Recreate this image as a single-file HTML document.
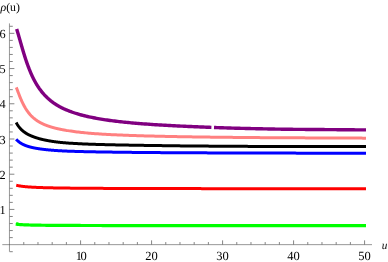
<!DOCTYPE html>
<html><head><meta charset="utf-8"><title>plot</title>
<style>
html,body{margin:0;padding:0;background:#fff;}
body{width:388px;height:262px;overflow:hidden;font-family:"Liberation Serif",serif;}
svg{display:block;will-change:transform;}
text{text-rendering:geometricPrecision;}
</style></head><body>
<svg width="388" height="262" viewBox="0 0 388 262">
<rect width="388" height="262" fill="#fff"/>
<g stroke="#505050" stroke-width="0.6" fill="none" shape-rendering="auto">
<path d="M2.3,244.65 H372"/>
<path d="M9.45,23.4 V251.6"/>
<path d="M23.78,244.65 v-2.6 M37.98,244.65 v-2.6 M52.18,244.65 v-2.6 M66.38,244.65 v-2.6 M80.58,244.65 v-4.3 M94.78,244.65 v-2.6 M108.98,244.65 v-2.6 M123.18,244.65 v-2.6 M137.38,244.65 v-2.6 M151.58,244.65 v-4.3 M165.78,244.65 v-2.6 M179.98,244.65 v-2.6 M194.18,244.65 v-2.6 M208.38,244.65 v-2.6 M222.58,244.65 v-4.3 M236.78,244.65 v-2.6 M250.98,244.65 v-2.6 M265.18,244.65 v-2.6 M279.38,244.65 v-2.6 M293.58,244.65 v-4.3 M307.78,244.65 v-2.6 M321.98,244.65 v-2.6 M336.18,244.65 v-2.6 M350.38,244.65 v-2.6 M364.58,244.65 v-4.3 M9.58,251.69 h3.2 M9.58,237.61 h3.2 M9.58,230.56 h3.2 M9.58,223.52 h3.2 M9.58,216.47 h3.2 M9.58,209.43 h4.8 M9.58,202.39 h3.2 M9.58,195.34 h3.2 M9.58,188.30 h3.2 M9.58,181.25 h3.2 M9.58,174.21 h4.8 M9.58,167.17 h3.2 M9.58,160.12 h3.2 M9.58,153.08 h3.2 M9.58,146.03 h3.2 M9.58,138.99 h4.8 M9.58,131.95 h3.2 M9.58,124.90 h3.2 M9.58,117.86 h3.2 M9.58,110.81 h3.2 M9.58,103.77 h4.8 M9.58,96.73 h3.2 M9.58,89.68 h3.2 M9.58,82.64 h3.2 M9.58,75.59 h3.2 M9.58,68.55 h4.8 M9.58,61.51 h3.2 M9.58,54.46 h3.2 M9.58,47.42 h3.2 M9.58,40.37 h3.2 M9.58,33.33 h4.8 M9.58,26.29 h3.2" stroke-width="0.8" stroke="#666"/>
</g>
<path d="M15.76,224.13 L15.96,224.16 L16.16,224.19 L16.37,224.21 L16.57,224.24 L16.77,224.26 L16.98,224.28 L17.18,224.31 L17.38,224.33 L17.59,224.35 L17.79,224.37 L17.99,224.39 L18.20,224.41 L18.40,224.43 L18.60,224.45 L18.81,224.47 L19.01,224.48 L19.21,224.50 L19.42,224.52 L19.62,224.53 L19.82,224.55 L20.03,224.56 L20.23,224.58 L20.43,224.59 L20.64,224.61 L20.84,224.62 L21.04,224.63 L21.25,224.65 L21.45,224.66 L21.65,224.67 L21.86,224.68 L22.06,224.70 L22.26,224.71 L22.47,224.72 L22.67,224.73 L22.87,224.74 L23.08,224.75 L23.28,224.76 L23.48,224.77 L23.69,224.78 L23.89,224.79 L24.09,224.80 L24.30,224.81 L24.50,224.82 L24.70,224.83 L24.91,224.84 L25.11,224.84 L25.31,224.85 L25.52,224.86 L25.72,224.87 L25.92,224.88 L26.13,224.89 L26.33,224.89 L26.53,224.90 L26.74,224.91 L26.94,224.92 L27.14,224.92 L27.35,224.93 L27.55,224.94 L27.75,224.94 L27.96,224.95 L28.16,224.96 L28.36,224.96 L28.57,224.97 L28.77,224.97 L28.97,224.98 L29.18,224.99 L29.38,224.99 L29.58,225.00 L29.79,225.00 L29.99,225.01 L30.19,225.02 L30.39,225.02 L30.60,225.03 L30.80,225.03 L31.00,225.04 L31.21,225.04 L31.41,225.05 L31.61,225.05 L31.82,225.06 L32.02,225.06 L32.22,225.07 L32.43,225.07 L32.63,225.08 L32.83,225.08 L33.04,225.08 L33.24,225.09 L33.44,225.09 L33.65,225.10 L33.85,225.10 L34.05,225.11 L34.26,225.11 L34.46,225.11 L34.66,225.12 L34.87,225.12 L35.07,225.13 L35.27,225.13 L35.48,225.13 L35.68,225.14 L35.88,225.14 L36.09,225.14 L36.29,225.15 L36.49,225.15 L36.70,225.16 L36.90,225.16 L37.10,225.16 L37.31,225.17 L37.51,225.17 L37.71,225.17 L37.92,225.18 L38.12,225.18 L38.32,225.18 L38.53,225.18 L38.73,225.19 L38.93,225.19 L39.14,225.19 L39.34,225.20 L39.54,225.20 L39.75,225.20 L39.95,225.21 L40.15,225.21 L40.36,225.21 L40.56,225.21 L40.76,225.22 L40.97,225.22 L41.17,225.22 L41.37,225.23 L41.58,225.23 L41.78,225.23 L41.98,225.23 L42.19,225.24 L42.39,225.24 L42.59,225.24 L42.80,225.24 L43.00,225.25 L43.20,225.25 L43.41,225.25 L43.61,225.25 L43.81,225.26 L44.02,225.26 L44.22,225.26 L44.42,225.26 L44.63,225.26 L44.83,225.27 L45.03,225.27 L45.24,225.27 L45.44,225.27 L45.64,225.28 L45.85,225.28 L46.05,225.28 L46.25,225.28 L46.46,225.28 L46.66,225.29 L46.86,225.29 L47.07,225.29 L47.27,225.29 L47.47,225.29 L47.68,225.30 L47.88,225.30 L48.08,225.30 L48.29,225.30 L48.49,225.30 L48.69,225.31 L48.90,225.31 L49.10,225.31 L49.30,225.31 L49.51,225.31 L49.71,225.31 L49.91,225.32 L50.12,225.32 L50.32,225.32 L50.52,225.32 L50.73,225.32 L50.93,225.32 L51.13,225.33 L51.34,225.33 L51.54,225.33 L51.74,225.33 L51.95,225.33 L52.15,225.33 L52.35,225.34 L52.56,225.34 L52.76,225.34 L52.96,225.34 L53.17,225.34 L53.37,225.34 L53.57,225.35 L53.78,225.35 L53.98,225.35 L54.18,225.35 L54.38,225.35 L54.59,225.35 L54.79,225.35 L54.99,225.36 L55.20,225.36 L55.40,225.36 L55.60,225.36 L55.81,225.36 L56.01,225.36 L56.21,225.36 L56.42,225.37 L56.62,225.37 L56.82,225.37 L57.03,225.37 L57.23,225.37 L57.43,225.37 L57.64,225.37 L57.84,225.37 L58.04,225.38 L58.25,225.38 L58.45,225.38 L58.65,225.38 L58.86,225.38 L59.06,225.38 L59.26,225.38 L59.47,225.38 L59.67,225.39 L59.87,225.39 L60.08,225.39 L60.28,225.39 L60.48,225.39 L60.69,225.39 L60.89,225.39 L61.09,225.39 L61.30,225.39 L61.50,225.40 L61.70,225.40 L61.91,225.40 L62.11,225.40 L62.31,225.40 L62.52,225.40 L62.72,225.40 L62.92,225.40 L63.13,225.40 L63.33,225.41 L63.53,225.41 L63.74,225.41 L63.94,225.41 L64.14,225.41 L64.35,225.41 L64.55,225.41 L64.75,225.41 L64.96,225.41 L65.16,225.41 L65.36,225.42 L65.57,225.42 L65.77,225.42 L65.97,225.42 L66.18,225.42 L66.38,225.42 L67.89,225.43 L69.39,225.43 L70.90,225.44 L72.40,225.45 L73.91,225.45 L75.41,225.46 L76.92,225.46 L78.43,225.47 L79.93,225.47 L81.44,225.48 L82.94,225.48 L84.45,225.49 L85.95,225.49 L87.46,225.49 L88.96,225.50 L90.47,225.50 L91.98,225.50 L93.48,225.51 L94.99,225.51 L96.49,225.51 L98.00,225.52 L99.50,225.52 L101.01,225.52 L102.52,225.53 L104.02,225.53 L105.53,225.53 L107.03,225.53 L108.54,225.54 L110.04,225.54 L111.55,225.54 L113.05,225.54 L114.56,225.55 L116.07,225.55 L117.57,225.55 L119.08,225.55 L120.58,225.55 L122.09,225.56 L123.59,225.56 L125.10,225.56 L126.61,225.56 L128.11,225.56 L129.62,225.57 L131.12,225.57 L132.63,225.57 L134.13,225.57 L135.64,225.57 L137.14,225.57 L138.65,225.58 L140.16,225.58 L141.66,225.58 L143.17,225.58 L144.67,225.58 L146.18,225.58 L147.68,225.58 L149.19,225.59 L150.70,225.59 L152.20,225.59 L153.71,225.59 L155.21,225.59 L156.72,225.59 L158.22,225.59 L159.73,225.59 L161.23,225.59 L162.74,225.60 L164.25,225.60 L165.75,225.60 L167.26,225.60 L168.76,225.60 L170.27,225.60 L171.77,225.60 L173.28,225.60 L174.79,225.60 L176.29,225.60 L177.80,225.61 L179.30,225.61 L180.81,225.61 L182.31,225.61 L183.82,225.61 L185.32,225.61 L186.83,225.61 L188.34,225.61 L189.84,225.61 L191.35,225.61 L192.85,225.61 L194.36,225.61 L195.86,225.62 L197.37,225.62 L198.88,225.62 L200.38,225.62 L201.89,225.62 L203.39,225.62 L204.90,225.62 L206.40,225.62 L207.91,225.62 L209.41,225.62 L210.92,225.62 L212.43,225.62 L213.93,225.62 L215.44,225.62 L216.94,225.62 L218.45,225.63 L219.95,225.63 L221.46,225.63 L222.97,225.63 L224.47,225.63 L225.98,225.63 L227.48,225.63 L228.99,225.63 L230.49,225.63 L232.00,225.63 L233.50,225.63 L235.01,225.63 L236.52,225.63 L238.02,225.63 L239.53,225.63 L241.03,225.63 L242.54,225.63 L244.04,225.63 L245.55,225.63 L247.06,225.64 L248.56,225.64 L250.07,225.64 L251.57,225.64 L253.08,225.64 L254.58,225.64 L256.09,225.64 L257.59,225.64 L259.10,225.64 L260.61,225.64 L262.11,225.64 L263.62,225.64 L265.12,225.64 L266.63,225.64 L268.13,225.64 L269.64,225.64 L271.15,225.64 L272.65,225.64 L274.16,225.64 L275.66,225.64 L277.17,225.64 L278.67,225.64 L280.18,225.64 L281.68,225.64 L283.19,225.64 L284.70,225.64 L286.20,225.65 L287.71,225.65 L289.21,225.65 L290.72,225.65 L292.22,225.65 L293.73,225.65 L295.24,225.65 L296.74,225.65 L298.25,225.65 L299.75,225.65 L301.26,225.65 L302.76,225.65 L304.27,225.65 L305.77,225.65 L307.28,225.65 L308.79,225.65 L310.29,225.65 L311.80,225.65 L313.30,225.65 L314.81,225.65 L316.31,225.65 L317.82,225.65 L319.33,225.65 L320.83,225.65 L322.34,225.65 L323.84,225.65 L325.35,225.65 L326.85,225.65 L328.36,225.65 L329.86,225.65 L331.37,225.65 L332.88,225.65 L334.38,225.65 L335.89,225.65 L337.39,225.66 L338.90,225.66 L340.40,225.66 L341.91,225.66 L343.42,225.66 L344.92,225.66 L346.43,225.66 L347.93,225.66 L349.44,225.66 L350.94,225.66 L352.45,225.66 L353.95,225.66 L355.46,225.66 L356.97,225.66 L358.47,225.66 L359.98,225.66 L361.48,225.66 L362.99,225.66 L364.49,225.66 L366.00,225.66" stroke="#00ff00" stroke-width="3.2" fill="none" stroke-linejoin="round"/>
<path d="M16.25,185.22 L16.46,185.27 L16.66,185.32 L16.86,185.37 L17.06,185.42 L17.26,185.47 L17.46,185.51 L17.66,185.56 L17.86,185.60 L18.07,185.64 L18.27,185.68 L18.47,185.72 L18.67,185.76 L18.87,185.80 L19.07,185.83 L19.27,185.87 L19.47,185.91 L19.68,185.94 L19.88,185.97 L20.08,186.01 L20.28,186.04 L20.48,186.07 L20.68,186.10 L20.88,186.13 L21.09,186.16 L21.29,186.19 L21.49,186.22 L21.69,186.24 L21.89,186.27 L22.09,186.30 L22.29,186.32 L22.49,186.35 L22.70,186.37 L22.90,186.40 L23.10,186.42 L23.30,186.45 L23.50,186.47 L23.70,186.49 L23.90,186.51 L24.11,186.54 L24.31,186.56 L24.51,186.58 L24.71,186.60 L24.91,186.62 L25.11,186.64 L25.31,186.66 L25.51,186.68 L25.72,186.70 L25.92,186.72 L26.12,186.73 L26.32,186.75 L26.52,186.77 L26.72,186.79 L26.92,186.80 L27.12,186.82 L27.33,186.84 L27.53,186.85 L27.73,186.87 L27.93,186.89 L28.13,186.90 L28.33,186.92 L28.53,186.93 L28.74,186.95 L28.94,186.96 L29.14,186.98 L29.34,186.99 L29.54,187.00 L29.74,187.02 L29.94,187.03 L30.14,187.04 L30.35,187.06 L30.55,187.07 L30.75,187.08 L30.95,187.10 L31.15,187.11 L31.35,187.12 L31.55,187.13 L31.75,187.14 L31.96,187.16 L32.16,187.17 L32.36,187.18 L32.56,187.19 L32.76,187.20 L32.96,187.21 L33.16,187.22 L33.37,187.23 L33.57,187.25 L33.77,187.26 L33.97,187.27 L34.17,187.28 L34.37,187.29 L34.57,187.30 L34.77,187.31 L34.98,187.32 L35.18,187.33 L35.38,187.33 L35.58,187.34 L35.78,187.35 L35.98,187.36 L36.18,187.37 L36.38,187.38 L36.59,187.39 L36.79,187.40 L36.99,187.41 L37.19,187.42 L37.39,187.42 L37.59,187.43 L37.79,187.44 L38.00,187.45 L38.20,187.46 L38.40,187.46 L38.60,187.47 L38.80,187.48 L39.00,187.49 L39.20,187.49 L39.40,187.50 L39.61,187.51 L39.81,187.52 L40.01,187.52 L40.21,187.53 L40.41,187.54 L40.61,187.55 L40.81,187.55 L41.02,187.56 L41.22,187.57 L41.42,187.57 L41.62,187.58 L41.82,187.59 L42.02,187.59 L42.22,187.60 L42.42,187.61 L42.63,187.61 L42.83,187.62 L43.03,187.63 L43.23,187.63 L43.43,187.64 L43.63,187.64 L43.83,187.65 L44.03,187.66 L44.24,187.66 L44.44,187.67 L44.64,187.67 L44.84,187.68 L45.04,187.68 L45.24,187.69 L45.44,187.70 L45.65,187.70 L45.85,187.71 L46.05,187.71 L46.25,187.72 L46.45,187.72 L46.65,187.73 L46.85,187.73 L47.05,187.74 L47.26,187.74 L47.46,187.75 L47.66,187.75 L47.86,187.76 L48.06,187.76 L48.26,187.77 L48.46,187.77 L48.66,187.78 L48.87,187.78 L49.07,187.79 L49.27,187.79 L49.47,187.80 L49.67,187.80 L49.87,187.81 L50.07,187.81 L50.28,187.81 L50.48,187.82 L50.68,187.82 L50.88,187.83 L51.08,187.83 L51.28,187.84 L51.48,187.84 L51.68,187.85 L51.89,187.85 L52.09,187.85 L52.29,187.86 L52.49,187.86 L52.69,187.87 L52.89,187.87 L53.09,187.87 L53.29,187.88 L53.50,187.88 L53.70,187.89 L53.90,187.89 L54.10,187.89 L54.30,187.90 L54.50,187.90 L54.70,187.91 L54.91,187.91 L55.11,187.91 L55.31,187.92 L55.51,187.92 L55.71,187.92 L55.91,187.93 L56.11,187.93 L56.31,187.93 L56.52,187.94 L56.72,187.94 L56.92,187.94 L57.12,187.95 L57.32,187.95 L57.52,187.96 L57.72,187.96 L57.93,187.96 L58.13,187.97 L58.33,187.97 L58.53,187.97 L58.73,187.97 L58.93,187.98 L59.13,187.98 L59.33,187.98 L59.54,187.99 L59.74,187.99 L59.94,187.99 L60.14,188.00 L60.34,188.00 L60.54,188.00 L60.74,188.01 L60.94,188.01 L61.15,188.01 L61.35,188.02 L61.55,188.02 L61.75,188.02 L61.95,188.02 L62.15,188.03 L62.35,188.03 L62.56,188.03 L62.76,188.04 L62.96,188.04 L63.16,188.04 L63.36,188.04 L63.56,188.05 L63.76,188.05 L63.96,188.05 L64.17,188.05 L64.37,188.06 L64.57,188.06 L64.77,188.06 L64.97,188.07 L65.17,188.07 L65.37,188.07 L65.57,188.07 L65.78,188.08 L65.98,188.08 L66.18,188.08 L66.38,188.08 L67.89,188.10 L69.39,188.12 L70.90,188.14 L72.40,188.15 L73.91,188.17 L75.41,188.18 L76.92,188.20 L78.43,188.21 L79.93,188.22 L81.44,188.24 L82.94,188.25 L84.45,188.26 L85.95,188.27 L87.46,188.28 L88.96,188.29 L90.47,188.30 L91.98,188.31 L93.48,188.32 L94.99,188.33 L96.49,188.34 L98.00,188.35 L99.50,188.36 L101.01,188.36 L102.52,188.37 L104.02,188.38 L105.53,188.39 L107.03,188.39 L108.54,188.40 L110.04,188.41 L111.55,188.41 L113.05,188.42 L114.56,188.43 L116.07,188.43 L117.57,188.44 L119.08,188.44 L120.58,188.45 L122.09,188.45 L123.59,188.46 L125.10,188.47 L126.61,188.47 L128.11,188.48 L129.62,188.48 L131.12,188.48 L132.63,188.49 L134.13,188.49 L135.64,188.50 L137.14,188.50 L138.65,188.51 L140.16,188.51 L141.66,188.52 L143.17,188.52 L144.67,188.52 L146.18,188.53 L147.68,188.53 L149.19,188.53 L150.70,188.54 L152.20,188.54 L153.71,188.54 L155.21,188.55 L156.72,188.55 L158.22,188.55 L159.73,188.56 L161.23,188.56 L162.74,188.56 L164.25,188.57 L165.75,188.57 L167.26,188.57 L168.76,188.57 L170.27,188.58 L171.77,188.58 L173.28,188.58 L174.79,188.59 L176.29,188.59 L177.80,188.59 L179.30,188.59 L180.81,188.60 L182.31,188.60 L183.82,188.60 L185.32,188.60 L186.83,188.61 L188.34,188.61 L189.84,188.61 L191.35,188.61 L192.85,188.61 L194.36,188.62 L195.86,188.62 L197.37,188.62 L198.88,188.62 L200.38,188.62 L201.89,188.63 L203.39,188.63 L204.90,188.63 L206.40,188.63 L207.91,188.63 L209.41,188.64 L210.92,188.64 L212.43,188.64 L213.93,188.64 L215.44,188.64 L216.94,188.64 L218.45,188.65 L219.95,188.65 L221.46,188.65 L222.97,188.65 L224.47,188.65 L225.98,188.65 L227.48,188.66 L228.99,188.66 L230.49,188.66 L232.00,188.66 L233.50,188.66 L235.01,188.66 L236.52,188.66 L238.02,188.67 L239.53,188.67 L241.03,188.67 L242.54,188.67 L244.04,188.67 L245.55,188.67 L247.06,188.67 L248.56,188.67 L250.07,188.68 L251.57,188.68 L253.08,188.68 L254.58,188.68 L256.09,188.68 L257.59,188.68 L259.10,188.68 L260.61,188.68 L262.11,188.69 L263.62,188.69 L265.12,188.69 L266.63,188.69 L268.13,188.69 L269.64,188.69 L271.15,188.69 L272.65,188.69 L274.16,188.69 L275.66,188.70 L277.17,188.70 L278.67,188.70 L280.18,188.70 L281.68,188.70 L283.19,188.70 L284.70,188.70 L286.20,188.70 L287.71,188.70 L289.21,188.70 L290.72,188.71 L292.22,188.71 L293.73,188.71 L295.24,188.71 L296.74,188.71 L298.25,188.71 L299.75,188.71 L301.26,188.71 L302.76,188.71 L304.27,188.71 L305.77,188.71 L307.28,188.71 L308.79,188.72 L310.29,188.72 L311.80,188.72 L313.30,188.72 L314.81,188.72 L316.31,188.72 L317.82,188.72 L319.33,188.72 L320.83,188.72 L322.34,188.72 L323.84,188.72 L325.35,188.72 L326.85,188.72 L328.36,188.73 L329.86,188.73 L331.37,188.73 L332.88,188.73 L334.38,188.73 L335.89,188.73 L337.39,188.73 L338.90,188.73 L340.40,188.73 L341.91,188.73 L343.42,188.73 L344.92,188.73 L346.43,188.73 L347.93,188.73 L349.44,188.74 L350.94,188.74 L352.45,188.74 L353.95,188.74 L355.46,188.74 L356.97,188.74 L358.47,188.74 L359.98,188.74 L361.48,188.74 L362.99,188.74 L364.49,188.74 L366.00,188.74" stroke="#ff0000" stroke-width="3.0" fill="none" stroke-linejoin="round"/>
<path d="M16.18,139.23 L16.38,139.46 L16.59,139.68 L16.79,139.90 L16.99,140.11 L17.19,140.32 L17.39,140.52 L17.59,140.71 L17.80,140.90 L18.00,141.08 L18.20,141.26 L18.40,141.43 L18.60,141.60 L18.80,141.77 L19.01,141.93 L19.21,142.08 L19.41,142.23 L19.61,142.38 L19.81,142.53 L20.01,142.67 L20.21,142.80 L20.42,142.94 L20.62,143.07 L20.82,143.20 L21.02,143.32 L21.22,143.44 L21.42,143.56 L21.63,143.68 L21.83,143.79 L22.03,143.90 L22.23,144.01 L22.43,144.12 L22.63,144.23 L22.84,144.33 L23.04,144.43 L23.24,144.53 L23.44,144.62 L23.64,144.72 L23.84,144.81 L24.05,144.90 L24.25,144.99 L24.45,145.08 L24.65,145.16 L24.85,145.24 L25.05,145.33 L25.25,145.41 L25.46,145.49 L25.66,145.57 L25.86,145.64 L26.06,145.72 L26.26,145.79 L26.46,145.86 L26.67,145.93 L26.87,146.00 L27.07,146.07 L27.27,146.14 L27.47,146.21 L27.67,146.27 L27.88,146.34 L28.08,146.40 L28.28,146.46 L28.48,146.52 L28.68,146.58 L28.88,146.64 L29.09,146.70 L29.29,146.76 L29.49,146.81 L29.69,146.87 L29.89,146.93 L30.09,146.98 L30.29,147.03 L30.50,147.08 L30.70,147.14 L30.90,147.19 L31.10,147.24 L31.30,147.29 L31.50,147.34 L31.71,147.38 L31.91,147.43 L32.11,147.48 L32.31,147.52 L32.51,147.57 L32.71,147.61 L32.92,147.66 L33.12,147.70 L33.32,147.74 L33.52,147.79 L33.72,147.83 L33.92,147.87 L34.12,147.91 L34.33,147.95 L34.53,147.99 L34.73,148.03 L34.93,148.07 L35.13,148.11 L35.33,148.14 L35.54,148.18 L35.74,148.22 L35.94,148.25 L36.14,148.29 L36.34,148.33 L36.54,148.36 L36.75,148.40 L36.95,148.43 L37.15,148.46 L37.35,148.50 L37.55,148.53 L37.75,148.56 L37.96,148.59 L38.16,148.63 L38.36,148.66 L38.56,148.69 L38.76,148.72 L38.96,148.75 L39.16,148.78 L39.37,148.81 L39.57,148.84 L39.77,148.87 L39.97,148.90 L40.17,148.93 L40.37,148.95 L40.58,148.98 L40.78,149.01 L40.98,149.04 L41.18,149.06 L41.38,149.09 L41.58,149.12 L41.79,149.14 L41.99,149.17 L42.19,149.20 L42.39,149.22 L42.59,149.25 L42.79,149.27 L43.00,149.30 L43.20,149.32 L43.40,149.35 L43.60,149.37 L43.80,149.39 L44.00,149.42 L44.20,149.44 L44.41,149.47 L44.61,149.49 L44.81,149.51 L45.01,149.53 L45.21,149.56 L45.41,149.58 L45.62,149.60 L45.82,149.62 L46.02,149.65 L46.22,149.67 L46.42,149.69 L46.62,149.71 L46.83,149.73 L47.03,149.75 L47.23,149.77 L47.43,149.79 L47.63,149.81 L47.83,149.83 L48.03,149.85 L48.24,149.87 L48.44,149.89 L48.64,149.91 L48.84,149.93 L49.04,149.95 L49.24,149.97 L49.45,149.99 L49.65,150.01 L49.85,150.02 L50.05,150.04 L50.25,150.06 L50.45,150.08 L50.66,150.10 L50.86,150.11 L51.06,150.13 L51.26,150.15 L51.46,150.17 L51.66,150.18 L51.87,150.20 L52.07,150.22 L52.27,150.23 L52.47,150.25 L52.67,150.27 L52.87,150.28 L53.07,150.30 L53.28,150.31 L53.48,150.33 L53.68,150.34 L53.88,150.36 L54.08,150.38 L54.28,150.39 L54.49,150.41 L54.69,150.42 L54.89,150.44 L55.09,150.45 L55.29,150.46 L55.49,150.48 L55.70,150.49 L55.90,150.51 L56.10,150.52 L56.30,150.53 L56.50,150.55 L56.70,150.56 L56.91,150.58 L57.11,150.59 L57.31,150.60 L57.51,150.61 L57.71,150.63 L57.91,150.64 L58.11,150.65 L58.32,150.67 L58.52,150.68 L58.72,150.69 L58.92,150.70 L59.12,150.71 L59.32,150.73 L59.53,150.74 L59.73,150.75 L59.93,150.76 L60.13,150.77 L60.33,150.78 L60.53,150.79 L60.74,150.81 L60.94,150.82 L61.14,150.83 L61.34,150.84 L61.54,150.85 L61.74,150.86 L61.94,150.87 L62.15,150.88 L62.35,150.89 L62.55,150.90 L62.75,150.91 L62.95,150.92 L63.15,150.93 L63.36,150.94 L63.56,150.95 L63.76,150.96 L63.96,150.97 L64.16,150.98 L64.36,150.99 L64.57,151.00 L64.77,151.01 L64.97,151.02 L65.17,151.03 L65.37,151.04 L65.57,151.05 L65.78,151.05 L65.98,151.06 L66.18,151.07 L66.38,151.08 L67.89,151.14 L69.39,151.20 L70.90,151.26 L72.40,151.31 L73.91,151.36 L75.41,151.41 L76.92,151.45 L78.43,151.50 L79.93,151.54 L81.44,151.57 L82.94,151.61 L84.45,151.64 L85.95,151.68 L87.46,151.71 L88.96,151.74 L90.47,151.77 L91.98,151.80 L93.48,151.82 L94.99,151.85 L96.49,151.88 L98.00,151.90 L99.50,151.93 L101.01,151.95 L102.52,151.98 L104.02,152.00 L105.53,152.02 L107.03,152.05 L108.54,152.07 L110.04,152.10 L111.55,152.12 L113.05,152.14 L114.56,152.16 L116.07,152.18 L117.57,152.21 L119.08,152.23 L120.58,152.24 L122.09,152.26 L123.59,152.28 L125.10,152.30 L126.61,152.32 L128.11,152.33 L129.62,152.35 L131.12,152.37 L132.63,152.38 L134.13,152.40 L135.64,152.41 L137.14,152.43 L138.65,152.44 L140.16,152.46 L141.66,152.47 L143.17,152.49 L144.67,152.50 L146.18,152.51 L147.68,152.52 L149.19,152.54 L150.70,152.55 L152.20,152.56 L153.71,152.57 L155.21,152.58 L156.72,152.59 L158.22,152.61 L159.73,152.62 L161.23,152.63 L162.74,152.64 L164.25,152.65 L165.75,152.66 L167.26,152.67 L168.76,152.68 L170.27,152.69 L171.77,152.70 L173.28,152.70 L174.79,152.71 L176.29,152.72 L177.80,152.73 L179.30,152.74 L180.81,152.75 L182.31,152.76 L183.82,152.76 L185.32,152.77 L186.83,152.78 L188.34,152.79 L189.84,152.79 L191.35,152.80 L192.85,152.81 L194.36,152.82 L195.86,152.82 L197.37,152.83 L198.88,152.84 L200.38,152.84 L201.89,152.85 L203.39,152.86 L204.90,152.86 L206.40,152.87 L207.91,152.88 L209.41,152.88 L210.92,152.89 L212.43,152.89 L213.93,152.90 L215.44,152.91 L216.94,152.91 L218.45,152.92 L219.95,152.92 L221.46,152.93 L222.97,152.93 L224.47,152.94 L225.98,152.94 L227.48,152.95 L228.99,152.95 L230.49,152.96 L232.00,152.96 L233.50,152.97 L235.01,152.97 L236.52,152.98 L238.02,152.98 L239.53,152.99 L241.03,152.99 L242.54,153.00 L244.04,153.00 L245.55,153.01 L247.06,153.01 L248.56,153.01 L250.07,153.02 L251.57,153.02 L253.08,153.03 L254.58,153.03 L256.09,153.03 L257.59,153.04 L259.10,153.04 L260.61,153.05 L262.11,153.05 L263.62,153.05 L265.12,153.06 L266.63,153.06 L268.13,153.06 L269.64,153.07 L271.15,153.07 L272.65,153.08 L274.16,153.08 L275.66,153.08 L277.17,153.09 L278.67,153.09 L280.18,153.09 L281.68,153.10 L283.19,153.10 L284.70,153.10 L286.20,153.11 L287.71,153.11 L289.21,153.11 L290.72,153.11 L292.22,153.12 L293.73,153.12 L295.24,153.12 L296.74,153.13 L298.25,153.13 L299.75,153.13 L301.26,153.14 L302.76,153.14 L304.27,153.14 L305.77,153.14 L307.28,153.15 L308.79,153.15 L310.29,153.15 L311.80,153.15 L313.30,153.16 L314.81,153.16 L316.31,153.16 L317.82,153.17 L319.33,153.17 L320.83,153.17 L322.34,153.17 L323.84,153.18 L325.35,153.18 L326.85,153.18 L328.36,153.18 L329.86,153.18 L331.37,153.19 L332.88,153.19 L334.38,153.19 L335.89,153.19 L337.39,153.20 L338.90,153.20 L340.40,153.20 L341.91,153.20 L343.42,153.21 L344.92,153.21 L346.43,153.21 L347.93,153.21 L349.44,153.21 L350.94,153.22 L352.45,153.22 L353.95,153.22 L355.46,153.22 L356.97,153.22 L358.47,153.23 L359.98,153.23 L361.48,153.23 L362.99,153.23 L364.49,153.23 L366.00,153.24" stroke="#0000ff" stroke-width="3.0" fill="none" stroke-linejoin="round"/>
<path d="M16.18,122.51 L16.38,122.88 L16.59,123.25 L16.79,123.60 L16.99,123.95 L17.19,124.28 L17.39,124.61 L17.59,124.92 L17.80,125.23 L18.00,125.53 L18.20,125.82 L18.40,126.11 L18.60,126.38 L18.80,126.65 L19.01,126.92 L19.21,127.17 L19.41,127.43 L19.61,127.67 L19.81,127.91 L20.01,128.14 L20.21,128.37 L20.42,128.59 L20.62,128.81 L20.82,129.02 L21.02,129.23 L21.22,129.43 L21.42,129.63 L21.63,129.83 L21.83,130.02 L22.03,130.20 L22.23,130.39 L22.43,130.56 L22.63,130.74 L22.84,130.91 L23.04,131.08 L23.24,131.24 L23.44,131.41 L23.64,131.56 L23.84,131.72 L24.05,131.87 L24.25,132.02 L24.45,132.17 L24.65,132.31 L24.85,132.45 L25.05,132.59 L25.25,132.73 L25.46,132.86 L25.66,133.00 L25.86,133.12 L26.06,133.25 L26.26,133.38 L26.46,133.50 L26.67,133.62 L26.87,133.74 L27.07,133.85 L27.27,133.97 L27.47,134.08 L27.67,134.19 L27.88,134.30 L28.08,134.41 L28.28,134.51 L28.48,134.62 L28.68,134.72 L28.88,134.82 L29.09,134.92 L29.29,135.02 L29.49,135.11 L29.69,135.21 L29.89,135.30 L30.09,135.39 L30.29,135.48 L30.50,135.57 L30.70,135.66 L30.90,135.75 L31.10,135.84 L31.30,135.92 L31.50,136.01 L31.71,136.09 L31.91,136.17 L32.11,136.26 L32.31,136.34 L32.51,136.42 L32.71,136.50 L32.92,136.58 L33.12,136.65 L33.32,136.73 L33.52,136.81 L33.72,136.88 L33.92,136.96 L34.12,137.03 L34.33,137.10 L34.53,137.18 L34.73,137.25 L34.93,137.32 L35.13,137.39 L35.33,137.46 L35.54,137.53 L35.74,137.60 L35.94,137.66 L36.14,137.73 L36.34,137.80 L36.54,137.86 L36.75,137.93 L36.95,137.99 L37.15,138.05 L37.35,138.12 L37.55,138.18 L37.75,138.24 L37.96,138.30 L38.16,138.36 L38.36,138.42 L38.56,138.48 L38.76,138.54 L38.96,138.59 L39.16,138.65 L39.37,138.71 L39.57,138.76 L39.77,138.82 L39.97,138.87 L40.17,138.92 L40.37,138.98 L40.58,139.03 L40.78,139.08 L40.98,139.13 L41.18,139.18 L41.38,139.23 L41.58,139.28 L41.79,139.33 L41.99,139.38 L42.19,139.43 L42.39,139.47 L42.59,139.52 L42.79,139.57 L43.00,139.61 L43.20,139.66 L43.40,139.70 L43.60,139.75 L43.80,139.79 L44.00,139.84 L44.20,139.88 L44.41,139.92 L44.61,139.97 L44.81,140.01 L45.01,140.05 L45.21,140.09 L45.41,140.13 L45.62,140.18 L45.82,140.22 L46.02,140.26 L46.22,140.30 L46.42,140.34 L46.62,140.38 L46.83,140.42 L47.03,140.46 L47.23,140.49 L47.43,140.53 L47.63,140.57 L47.83,140.61 L48.03,140.65 L48.24,140.68 L48.44,140.72 L48.64,140.76 L48.84,140.79 L49.04,140.83 L49.24,140.87 L49.45,140.90 L49.65,140.94 L49.85,140.97 L50.05,141.00 L50.25,141.04 L50.45,141.07 L50.66,141.11 L50.86,141.14 L51.06,141.17 L51.26,141.21 L51.46,141.24 L51.66,141.27 L51.87,141.30 L52.07,141.33 L52.27,141.37 L52.47,141.40 L52.67,141.43 L52.87,141.46 L53.07,141.49 L53.28,141.52 L53.48,141.55 L53.68,141.58 L53.88,141.61 L54.08,141.63 L54.28,141.66 L54.49,141.69 L54.69,141.72 L54.89,141.75 L55.09,141.77 L55.29,141.80 L55.49,141.83 L55.70,141.86 L55.90,141.88 L56.10,141.91 L56.30,141.93 L56.50,141.96 L56.70,141.98 L56.91,142.01 L57.11,142.03 L57.31,142.06 L57.51,142.08 L57.71,142.11 L57.91,142.13 L58.11,142.15 L58.32,142.18 L58.52,142.20 L58.72,142.22 L58.92,142.24 L59.12,142.26 L59.32,142.29 L59.53,142.31 L59.73,142.33 L59.93,142.35 L60.13,142.37 L60.33,142.39 L60.53,142.41 L60.74,142.43 L60.94,142.45 L61.14,142.47 L61.34,142.49 L61.54,142.51 L61.74,142.53 L61.94,142.55 L62.15,142.56 L62.35,142.58 L62.55,142.60 L62.75,142.62 L62.95,142.64 L63.15,142.66 L63.36,142.67 L63.56,142.69 L63.76,142.71 L63.96,142.73 L64.16,142.74 L64.36,142.76 L64.57,142.78 L64.77,142.79 L64.97,142.81 L65.17,142.83 L65.37,142.84 L65.57,142.86 L65.78,142.88 L65.98,142.89 L66.18,142.91 L66.38,142.93 L67.89,143.04 L69.39,143.15 L70.90,143.25 L72.40,143.35 L73.91,143.44 L75.41,143.53 L76.92,143.61 L78.43,143.69 L79.93,143.76 L81.44,143.83 L82.94,143.90 L84.45,143.96 L85.95,144.02 L87.46,144.08 L88.96,144.14 L90.47,144.19 L91.98,144.24 L93.48,144.29 L94.99,144.34 L96.49,144.39 L98.00,144.44 L99.50,144.48 L101.01,144.52 L102.52,144.57 L104.02,144.61 L105.53,144.65 L107.03,144.69 L108.54,144.73 L110.04,144.76 L111.55,144.80 L113.05,144.83 L114.56,144.87 L116.07,144.90 L117.57,144.93 L119.08,144.96 L120.58,144.99 L122.09,145.02 L123.59,145.04 L125.10,145.07 L126.61,145.10 L128.11,145.12 L129.62,145.15 L131.12,145.17 L132.63,145.20 L134.13,145.22 L135.64,145.24 L137.14,145.27 L138.65,145.29 L140.16,145.31 L141.66,145.33 L143.17,145.36 L144.67,145.38 L146.18,145.40 L147.68,145.42 L149.19,145.45 L150.70,145.47 L152.20,145.49 L153.71,145.51 L155.21,145.54 L156.72,145.56 L158.22,145.58 L159.73,145.60 L161.23,145.62 L162.74,145.64 L164.25,145.67 L165.75,145.69 L167.26,145.71 L168.76,145.73 L170.27,145.75 L171.77,145.77 L173.28,145.79 L174.79,145.81 L176.29,145.83 L177.80,145.84 L179.30,145.86 L180.81,145.88 L182.31,145.90 L183.82,145.91 L185.32,145.93 L186.83,145.94 L188.34,145.96 L189.84,145.97 L191.35,145.99 L192.85,146.00 L194.36,146.01 L195.86,146.03 L197.37,146.04 L198.88,146.05 L200.38,146.06 L201.89,146.08 L203.39,146.09 L204.90,146.10 L206.40,146.11 L207.91,146.12 L209.41,146.13 L210.92,146.15 L212.43,146.16 L213.93,146.17 L215.44,146.18 L216.94,146.19 L218.45,146.20 L219.95,146.21 L221.46,146.22 L222.97,146.23 L224.47,146.24 L225.98,146.25 L227.48,146.26 L228.99,146.27 L230.49,146.28 L232.00,146.29 L233.50,146.30 L235.01,146.30 L236.52,146.31 L238.02,146.32 L239.53,146.33 L241.03,146.34 L242.54,146.35 L244.04,146.36 L245.55,146.36 L247.06,146.37 L248.56,146.38 L250.07,146.39 L251.57,146.40 L253.08,146.40 L254.58,146.41 L256.09,146.42 L257.59,146.43 L259.10,146.43 L260.61,146.44 L262.11,146.45 L263.62,146.45 L265.12,146.46 L266.63,146.47 L268.13,146.47 L269.64,146.48 L271.15,146.49 L272.65,146.49 L274.16,146.50 L275.66,146.51 L277.17,146.51 L278.67,146.52 L280.18,146.53 L281.68,146.53 L283.19,146.54 L284.70,146.54 L286.20,146.55 L287.71,146.56 L289.21,146.56 L290.72,146.57 L292.22,146.57 L293.73,146.58 L295.24,146.58 L296.74,146.59 L298.25,146.60 L299.75,146.60 L301.26,146.60 L302.76,146.59 L304.27,146.59 L305.77,146.58 L307.28,146.57 L308.79,146.56 L310.29,146.55 L311.80,146.53 L313.30,146.52 L314.81,146.51 L316.31,146.50 L317.82,146.49 L319.33,146.48 L320.83,146.48 L322.34,146.48 L323.84,146.48 L325.35,146.49 L326.85,146.49 L328.36,146.49 L329.86,146.50 L331.37,146.50 L332.88,146.51 L334.38,146.51 L335.89,146.52 L337.39,146.52 L338.90,146.52 L340.40,146.53 L341.91,146.53 L343.42,146.54 L344.92,146.54 L346.43,146.54 L347.93,146.55 L349.44,146.55 L350.94,146.56 L352.45,146.56 L353.95,146.56 L355.46,146.57 L356.97,146.57 L358.47,146.58 L359.98,146.58 L361.48,146.58 L362.99,146.59 L364.49,146.59 L366.00,146.59" stroke="#000000" stroke-width="3.0" fill="none" stroke-linejoin="round"/>
<path d="M16.32,87.36 L16.53,87.90 L16.73,88.44 L16.93,88.98 L17.13,89.52 L17.33,90.06 L17.53,90.60 L17.73,91.13 L17.93,91.67 L18.13,92.20 L18.34,92.73 L18.54,93.26 L18.74,93.78 L18.94,94.31 L19.14,94.82 L19.34,95.33 L19.54,95.84 L19.74,96.34 L19.94,96.84 L20.14,97.33 L20.35,97.82 L20.55,98.30 L20.75,98.78 L20.95,99.25 L21.15,99.71 L21.35,100.17 L21.55,100.62 L21.75,101.07 L21.95,101.51 L22.15,101.94 L22.36,102.37 L22.56,102.79 L22.76,103.20 L22.96,103.61 L23.16,104.01 L23.36,104.41 L23.56,104.80 L23.76,105.18 L23.96,105.56 L24.16,105.93 L24.37,106.30 L24.57,106.66 L24.77,107.01 L24.97,107.36 L25.17,107.71 L25.37,108.04 L25.57,108.38 L25.77,108.70 L25.97,109.02 L26.18,109.34 L26.38,109.65 L26.58,109.96 L26.78,110.26 L26.98,110.55 L27.18,110.84 L27.38,111.13 L27.58,111.41 L27.78,111.69 L27.98,111.96 L28.19,112.23 L28.39,112.49 L28.59,112.75 L28.79,113.00 L28.99,113.25 L29.19,113.50 L29.39,113.74 L29.59,113.98 L29.79,114.22 L29.99,114.45 L30.20,114.67 L30.40,114.90 L30.60,115.12 L30.80,115.33 L31.00,115.55 L31.20,115.76 L31.40,115.96 L31.60,116.17 L31.80,116.37 L32.00,116.56 L32.21,116.76 L32.41,116.95 L32.61,117.14 L32.81,117.32 L33.01,117.50 L33.21,117.68 L33.41,117.86 L33.61,118.03 L33.81,118.20 L34.02,118.37 L34.22,118.54 L34.42,118.70 L34.62,118.86 L34.82,119.02 L35.02,119.18 L35.22,119.34 L35.42,119.49 L35.62,119.64 L35.82,119.79 L36.03,119.93 L36.23,120.08 L36.43,120.22 L36.63,120.36 L36.83,120.50 L37.03,120.63 L37.23,120.77 L37.43,120.90 L37.63,121.03 L37.83,121.16 L38.04,121.29 L38.24,121.41 L38.44,121.54 L38.64,121.66 L38.84,121.78 L39.04,121.90 L39.24,122.01 L39.44,122.13 L39.64,122.25 L39.84,122.36 L40.05,122.47 L40.25,122.58 L40.45,122.69 L40.65,122.80 L40.85,122.90 L41.05,123.01 L41.25,123.11 L41.45,123.21 L41.65,123.31 L41.86,123.41 L42.06,123.51 L42.26,123.61 L42.46,123.71 L42.66,123.80 L42.86,123.90 L43.06,123.99 L43.26,124.08 L43.46,124.17 L43.66,124.26 L43.87,124.35 L44.07,124.44 L44.27,124.53 L44.47,124.61 L44.67,124.70 L44.87,124.78 L45.07,124.86 L45.27,124.94 L45.47,125.03 L45.67,125.11 L45.88,125.19 L46.08,125.26 L46.28,125.34 L46.48,125.42 L46.68,125.50 L46.88,125.57 L47.08,125.64 L47.28,125.72 L47.48,125.79 L47.68,125.86 L47.89,125.94 L48.09,126.01 L48.29,126.08 L48.49,126.15 L48.69,126.21 L48.89,126.28 L49.09,126.35 L49.29,126.42 L49.49,126.48 L49.70,126.55 L49.90,126.61 L50.10,126.68 L50.30,126.74 L50.50,126.80 L50.70,126.86 L50.90,126.93 L51.10,126.99 L51.30,127.05 L51.50,127.11 L51.71,127.17 L51.91,127.23 L52.11,127.28 L52.31,127.34 L52.51,127.40 L52.71,127.46 L52.91,127.51 L53.11,127.57 L53.31,127.62 L53.51,127.68 L53.72,127.73 L53.92,127.78 L54.12,127.84 L54.32,127.89 L54.52,127.94 L54.72,127.99 L54.92,128.05 L55.12,128.10 L55.32,128.15 L55.52,128.20 L55.73,128.25 L55.93,128.30 L56.13,128.35 L56.33,128.39 L56.53,128.44 L56.73,128.49 L56.93,128.54 L57.13,128.58 L57.33,128.63 L57.53,128.68 L57.74,128.72 L57.94,128.77 L58.14,128.81 L58.34,128.86 L58.54,128.90 L58.74,128.94 L58.94,128.99 L59.14,129.03 L59.34,129.07 L59.55,129.12 L59.75,129.16 L59.95,129.20 L60.15,129.24 L60.35,129.28 L60.55,129.32 L60.75,129.37 L60.95,129.41 L61.15,129.45 L61.35,129.49 L61.56,129.52 L61.76,129.56 L61.96,129.60 L62.16,129.64 L62.36,129.68 L62.56,129.72 L62.76,129.76 L62.96,129.79 L63.16,129.83 L63.36,129.87 L63.57,129.90 L63.77,129.94 L63.97,129.98 L64.17,130.01 L64.37,130.05 L64.57,130.09 L64.77,130.12 L64.97,130.16 L65.17,130.19 L65.37,130.23 L65.58,130.26 L65.78,130.29 L65.98,130.33 L66.18,130.36 L66.38,130.40 L67.89,130.64 L69.39,130.87 L70.90,131.10 L72.40,131.31 L73.91,131.52 L75.41,131.71 L76.92,131.90 L78.43,132.08 L79.93,132.25 L81.44,132.42 L82.94,132.58 L84.45,132.73 L85.95,132.88 L87.46,133.02 L88.96,133.16 L90.47,133.29 L91.98,133.41 L93.48,133.54 L94.99,133.65 L96.49,133.76 L98.00,133.87 L99.50,133.97 L101.01,134.07 L102.52,134.16 L104.02,134.25 L105.53,134.33 L107.03,134.42 L108.54,134.50 L110.04,134.58 L111.55,134.65 L113.05,134.72 L114.56,134.79 L116.07,134.86 L117.57,134.93 L119.08,135.00 L120.58,135.06 L122.09,135.12 L123.59,135.18 L125.10,135.24 L126.61,135.30 L128.11,135.35 L129.62,135.41 L131.12,135.46 L132.63,135.51 L134.13,135.56 L135.64,135.61 L137.14,135.66 L138.65,135.71 L140.16,135.75 L141.66,135.80 L143.17,135.84 L144.67,135.88 L146.18,135.92 L147.68,135.97 L149.19,136.01 L150.70,136.04 L152.20,136.08 L153.71,136.12 L155.21,136.16 L156.72,136.19 L158.22,136.23 L159.73,136.26 L161.23,136.30 L162.74,136.33 L164.25,136.36 L165.75,136.39 L167.26,136.43 L168.76,136.46 L170.27,136.49 L171.77,136.52 L173.28,136.55 L174.79,136.57 L176.29,136.60 L177.80,136.63 L179.30,136.66 L180.81,136.68 L182.31,136.71 L183.82,136.74 L185.32,136.76 L186.83,136.79 L188.34,136.81 L189.84,136.83 L191.35,136.86 L192.85,136.88 L194.36,136.90 L195.86,136.93 L197.37,136.95 L198.88,136.97 L200.38,136.99 L201.89,137.01 L203.39,137.03 L204.90,137.05 L206.40,137.07 L207.91,137.09 L209.41,137.11 L210.92,137.13 L212.43,137.15 L213.93,137.17 L215.44,137.19 L216.94,137.21 L218.45,137.22 L219.95,137.24 L221.46,137.26 L222.97,137.27 L224.47,137.29 L225.98,137.31 L227.48,137.32 L228.99,137.34 L230.49,137.36 L232.00,137.37 L233.50,137.39 L235.01,137.40 L236.52,137.42 L238.02,137.43 L239.53,137.45 L241.03,137.46 L242.54,137.48 L244.04,137.49 L245.55,137.50 L247.06,137.52 L248.56,137.53 L250.07,137.55 L251.57,137.56 L253.08,137.57 L254.58,137.58 L256.09,137.60 L257.59,137.61 L259.10,137.62 L260.61,137.63 L262.11,137.65 L263.62,137.66 L265.12,137.67 L266.63,137.68 L268.13,137.69 L269.64,137.71 L271.15,137.72 L272.65,137.73 L274.16,137.74 L275.66,137.75 L277.17,137.76 L278.67,137.77 L280.18,137.78 L281.68,137.79 L283.19,137.79 L284.70,137.80 L286.20,137.81 L287.71,137.82 L289.21,137.82 L290.72,137.83 L292.22,137.83 L293.73,137.84 L295.24,137.84 L296.74,137.85 L298.25,137.85 L299.75,137.86 L301.26,137.86 L302.76,137.87 L304.27,137.87 L305.77,137.88 L307.28,137.88 L308.79,137.89 L310.29,137.89 L311.80,137.90 L313.30,137.90 L314.81,137.91 L316.31,137.91 L317.82,137.92 L319.33,137.92 L320.83,137.93 L322.34,137.94 L323.84,137.95 L325.35,137.95 L326.85,137.96 L328.36,137.97 L329.86,137.98 L331.37,137.98 L332.88,137.99 L334.38,138.00 L335.89,138.01 L337.39,138.01 L338.90,138.02 L340.40,138.03 L341.91,138.03 L343.42,138.04 L344.92,138.05 L346.43,138.06 L347.93,138.06 L349.44,138.07 L350.94,138.08 L352.45,138.08 L353.95,138.09 L355.46,138.09 L356.97,138.10 L358.47,138.11 L359.98,138.11 L361.48,138.12 L362.99,138.13 L364.49,138.13 L366.00,138.14" stroke="#ff8080" stroke-width="3.0" fill="none" stroke-linejoin="round"/>
<path d="M16.68,29.06 L16.88,29.69 L17.08,30.34 L17.28,30.99 L17.48,31.65 L17.68,32.32 L17.88,32.99 L18.08,33.66 L18.28,34.34 L18.48,35.03 L18.68,35.71 L18.88,36.41 L19.08,37.10 L19.27,37.79 L19.47,38.49 L19.67,39.19 L19.87,39.89 L20.07,40.59 L20.27,41.29 L20.47,41.99 L20.67,42.69 L20.87,43.39 L21.07,44.08 L21.27,44.78 L21.47,45.47 L21.67,46.17 L21.87,46.85 L22.07,47.54 L22.27,48.22 L22.47,48.90 L22.67,49.58 L22.87,50.25 L23.07,50.92 L23.27,51.59 L23.47,52.25 L23.67,52.91 L23.87,53.56 L24.07,54.21 L24.26,54.85 L24.46,55.49 L24.66,56.12 L24.86,56.75 L25.06,57.38 L25.26,57.99 L25.46,58.61 L25.66,59.22 L25.86,59.82 L26.06,60.42 L26.26,61.01 L26.46,61.59 L26.66,62.17 L26.86,62.75 L27.06,63.32 L27.26,63.88 L27.46,64.44 L27.66,64.99 L27.86,65.54 L28.06,66.08 L28.26,66.61 L28.46,67.14 L28.66,67.67 L28.86,68.19 L29.06,68.70 L29.25,69.21 L29.45,69.71 L29.65,70.21 L29.85,70.70 L30.05,71.18 L30.25,71.66 L30.45,72.14 L30.65,72.61 L30.85,73.07 L31.05,73.53 L31.25,73.98 L31.45,74.43 L31.65,74.87 L31.85,75.31 L32.05,75.75 L32.25,76.17 L32.45,76.60 L32.65,77.01 L32.85,77.43 L33.05,77.84 L33.25,78.24 L33.45,78.64 L33.65,79.03 L33.85,79.42 L34.05,79.81 L34.24,80.19 L34.44,80.57 L34.64,80.94 L34.84,81.31 L35.04,81.67 L35.24,82.03 L35.44,82.38 L35.64,82.73 L35.84,83.08 L36.04,83.42 L36.24,83.76 L36.44,84.10 L36.64,84.43 L36.84,84.76 L37.04,85.08 L37.24,85.40 L37.44,85.72 L37.64,86.03 L37.84,86.34 L38.04,86.64 L38.24,86.94 L38.44,87.24 L38.64,87.54 L38.84,87.83 L39.04,88.12 L39.23,88.40 L39.43,88.68 L39.63,88.96 L39.83,89.24 L40.03,89.51 L40.23,89.78 L40.43,90.05 L40.63,90.31 L40.83,90.57 L41.03,90.83 L41.23,91.09 L41.43,91.34 L41.63,91.59 L41.83,91.84 L42.03,92.08 L42.23,92.33 L42.43,92.57 L42.63,92.80 L42.83,93.04 L43.03,93.27 L43.23,93.50 L43.43,93.73 L43.63,93.96 L43.83,94.18 L44.02,94.41 L44.22,94.63 L44.42,94.84 L44.62,95.06 L44.82,95.27 L45.02,95.48 L45.22,95.69 L45.42,95.90 L45.62,96.10 L45.82,96.31 L46.02,96.51 L46.22,96.71 L46.42,96.91 L46.62,97.10 L46.82,97.29 L47.02,97.49 L47.22,97.68 L47.42,97.86 L47.62,98.05 L47.82,98.24 L48.02,98.42 L48.22,98.60 L48.42,98.78 L48.62,98.96 L48.82,99.13 L49.01,99.31 L49.21,99.48 L49.41,99.65 L49.61,99.82 L49.81,99.99 L50.01,100.16 L50.21,100.33 L50.41,100.49 L50.61,100.65 L50.81,100.81 L51.01,100.97 L51.21,101.13 L51.41,101.29 L51.61,101.44 L51.81,101.60 L52.01,101.75 L52.21,101.90 L52.41,102.05 L52.61,102.20 L52.81,102.35 L53.01,102.49 L53.21,102.64 L53.41,102.78 L53.61,102.92 L53.81,103.07 L54.00,103.21 L54.20,103.34 L54.40,103.48 L54.60,103.62 L54.80,103.75 L55.00,103.89 L55.20,104.02 L55.40,104.15 L55.60,104.28 L55.80,104.41 L56.00,104.54 L56.20,104.67 L56.40,104.79 L56.60,104.92 L56.80,105.04 L57.00,105.16 L57.20,105.28 L57.40,105.41 L57.60,105.52 L57.80,105.64 L58.00,105.76 L58.20,105.88 L58.40,105.99 L58.60,106.11 L58.80,106.22 L58.99,106.33 L59.19,106.44 L59.39,106.55 L59.59,106.66 L59.79,106.77 L59.99,106.88 L60.19,106.99 L60.39,107.09 L60.59,107.20 L60.79,107.30 L60.99,107.41 L61.19,107.51 L61.39,107.61 L61.59,107.71 L61.79,107.81 L61.99,107.91 L62.19,108.01 L62.39,108.11 L62.59,108.21 L62.79,108.30 L62.99,108.40 L63.19,108.49 L63.39,108.59 L63.59,108.68 L63.79,108.78 L63.98,108.87 L64.18,108.96 L64.38,109.05 L64.58,109.14 L64.78,109.23 L64.98,109.32 L65.18,109.41 L65.38,109.50 L65.58,109.59 L65.78,109.67 L65.98,109.76 L66.18,109.85 L66.38,109.93 L67.89,110.55 L69.39,111.15 L70.90,111.71 L72.40,112.25 L73.91,112.76 L75.41,113.25 L76.92,113.71 L78.43,114.16 L79.93,114.59 L81.44,115.00 L82.94,115.39 L84.45,115.77 L85.95,116.13 L87.46,116.48 L88.96,116.82 L90.47,117.14 L91.98,117.45 L93.48,117.75 L94.99,118.04 L96.49,118.32 L98.00,118.59 L99.50,118.85 L101.01,119.10 L102.52,119.34 L104.02,119.58 L105.53,119.81 L107.03,120.03 L108.54,120.24 L110.04,120.45 L111.55,120.65 L113.05,120.85 L114.56,121.04 L116.07,121.22 L117.57,121.40 L119.08,121.58 L120.58,121.75 L122.09,121.91 L123.59,122.07 L125.10,122.23 L126.61,122.38 L128.11,122.53 L129.62,122.67 L131.12,122.82 L132.63,122.95 L134.13,123.09 L135.64,123.22 L137.14,123.35 L138.65,123.47 L140.16,123.60 L141.66,123.72 L143.17,123.83 L144.67,123.95 L146.18,124.06 L147.68,124.17 L149.19,124.27 L150.70,124.38 L152.20,124.48 L153.71,124.58 L155.21,124.68 L156.72,124.78 L158.22,124.87 L159.73,124.96 L161.23,125.05 L162.74,125.14 L164.25,125.23 L165.75,125.31 L167.26,125.40 L168.76,125.48 L170.27,125.56 L171.77,125.64 L173.28,125.72 L174.79,125.79 L176.29,125.87 L177.80,125.94 L179.30,126.01 L180.81,126.09 L182.31,126.16 L183.82,126.23 L185.32,126.29 L186.83,126.36 L188.34,126.43 L189.84,126.49 L191.35,126.56 L192.85,126.62 L194.36,126.69 L195.86,126.75 L197.37,126.81 L198.88,126.88 L200.38,126.94 L201.89,127.00 L203.39,127.07 L204.90,127.13 L206.40,127.19 L207.91,127.25 L209.41,127.31 L210.92,127.37 L211.40,127.38 M214.00,127.48 L215.44,127.54 L216.94,127.59 L218.45,127.65 L219.95,127.70 L221.46,127.76 L222.97,127.81 L224.47,127.86 L225.98,127.91 L227.48,127.96 L228.99,128.01 L230.49,128.05 L232.00,128.10 L233.50,128.14 L235.01,128.18 L236.52,128.22 L238.02,128.26 L239.53,128.30 L241.03,128.34 L242.54,128.38 L244.04,128.41 L245.55,128.45 L247.06,128.49 L248.56,128.52 L250.07,128.56 L251.57,128.59 L253.08,128.63 L254.58,128.66 L256.09,128.69 L257.59,128.73 L259.10,128.76 L260.61,128.79 L262.11,128.82 L263.62,128.85 L265.12,128.89 L266.63,128.92 L268.13,128.95 L269.64,128.98 L271.15,129.01 L272.65,129.04 L274.16,129.07 L275.66,129.09 L277.17,129.12 L278.67,129.14 L280.18,129.17 L281.68,129.19 L283.19,129.21 L284.70,129.23 L286.20,129.25 L287.71,129.27 L289.21,129.29 L290.72,129.30 L292.22,129.32 L293.73,129.33 L295.24,129.35 L296.74,129.36 L298.25,129.37 L299.75,129.38 L301.26,129.40 L302.76,129.41 L304.27,129.42 L305.77,129.43 L307.28,129.44 L308.79,129.45 L310.29,129.46 L311.80,129.47 L313.30,129.48 L314.81,129.49 L316.31,129.51 L317.82,129.52 L319.33,129.53 L320.83,129.54 L322.34,129.55 L323.84,129.57 L325.35,129.58 L326.85,129.60 L328.36,129.61 L329.86,129.62 L331.37,129.64 L332.88,129.65 L334.38,129.66 L335.89,129.67 L337.39,129.69 L338.90,129.70 L340.40,129.71 L341.91,129.73 L343.42,129.74 L344.92,129.75 L346.43,129.76 L347.93,129.78 L349.44,129.79 L350.94,129.80 L352.45,129.81 L353.95,129.82 L355.46,129.84 L356.97,129.85 L358.47,129.86 L359.98,129.87 L361.48,129.89 L362.99,129.90 L364.49,129.91 L366.00,129.92" stroke="#800080" stroke-width="3.4" fill="none" stroke-linejoin="round"/>
<circle cx="17.3" cy="223.7" r="1.5" fill="#00ff00"/>
<g font-family="Liberation Serif, serif" font-size="12.5" fill="#000">
<text x="75.63 80.58" y="260">10</text>
<text x="151.6" y="260" text-anchor="middle">20</text>
<text x="222.6" y="260" text-anchor="middle">30</text>
<text x="293.6" y="260" text-anchor="middle">40</text>
<text x="364.6" y="260" text-anchor="middle">50</text>
<text x="5.7" y="214" text-anchor="end" font-size="12.3">1</text>
<text x="5.7" y="179" text-anchor="end" font-size="12.3">2</text>
<text x="5.7" y="144" text-anchor="end" font-size="12.3">3</text>
<text x="5.7" y="108" text-anchor="end" font-size="12.3">4</text>
<text x="5.7" y="73" text-anchor="end" font-size="12.3">5</text>
<text x="5.7" y="38" text-anchor="end" font-size="12.3">6</text>
<text x="0.5" y="11" font-size="11.8"><tspan font-style="italic">ρ</tspan>(u)</text>
<text x="381.8" y="249.1" font-size="11.2" font-style="italic">u</text>
</g>
</svg>
</body></html>
